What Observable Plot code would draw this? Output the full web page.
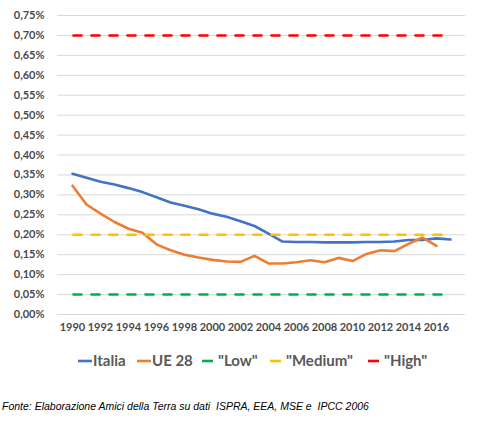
<!DOCTYPE html>
<html>
<head>
<meta charset="utf-8">
<script src="https://cdn.jsdelivr.net/npm/d3@7"></script>
<script src="https://cdn.jsdelivr.net/npm/@observablehq/plot@0.6"></script>
<style>
  body { margin: 0; background: #fff; }
  #wrap { width: 490px; height: 423px; position: relative; font-family: Lato, "Open Sans", sans-serif; }
  #legend { position: absolute; top: 350px; left: 0; width: 490px; height: 22px; }
  #caption { position: absolute; top: 400px; left: 2px; font-family: "Liberation Sans", Arial, sans-serif; font-style: italic; font-size: 10.5px; color: #000; white-space: pre; }
</style>
</head>
<body>
<div id="wrap">
  <div id="chart"></div>
  <div id="legend"></div>
  <div id="caption"></div>
</div>
<script>
// ---- data ----
const years = d3.range(1990, 2018);
const italia = [0.353, 0.343, 0.333, 0.326, 0.317, 0.307, 0.294, 0.281, 0.273, 0.264,
                0.253, 0.245, 0.234, 0.222, 0.203, 0.183, 0.182, 0.182, 0.181, 0.181,
                0.181, 0.182, 0.182, 0.183, 0.187, 0.187, 0.191, 0.188];
const ue28 = [0.323, 0.276, 0.253, 0.232, 0.215, 0.205, 0.176, 0.161, 0.150, 0.143,
              0.137, 0.133, 0.132, 0.147, 0.128, 0.128, 0.131, 0.136, 0.131, 0.142,
              0.134, 0.152, 0.161, 0.159, 0.177, 0.193, 0.172];
const levelNames = ['"Low"', '"Medium"', '"High"'];
const levelValues = [0.05, 0.20, 0.70];
const xTicks = d3.range(1990, 2017, 2);
const yTicks = [0, 0.05, 0.10, 0.15, 0.20, 0.25, 0.30, 0.35, 0.40, 0.45, 0.50, 0.55, 0.60, 0.65, 0.70, 0.75];
const seriesNames = ["Italia", "UE 28"];
const colors = {"Italia": "#4472C4", "UE 28": "#ED7D31", '"Low"': "#00B050", '"Medium"': "#FFC000", '"High"': "#FF0000"};
const caption = "Fonte: Elaborazione Amici della Terra su dati  ISPRA, EEA, MSE e  IPCC 2006";

// ---- tables ----
const solid = [
  ...italia.map((v, i) => ({series: "Italia", year: years[i], value: v})),
  ...ue28.map((v, i) => ({series: "UE 28", year: years[i], value: v}))
];
const dashed = levelNames.flatMap((n, k) => years.map(y => ({series: n, year: y, value: levelValues[k]})));

const fmt = d => d.toFixed(2).replace(".", ",") + "%";

const chart = Plot.plot({
  width: 490,
  height: 340,
  marginLeft: 57,
  marginRight: 25,
  marginTop: 15,
  marginBottom: 26,
  style: {fontFamily: "Lato, 'Open Sans', sans-serif", fontSize: "11px", fontWeight: "bold", color: "#4a4a4a", background: "#fff"},
  x: {type: "point", domain: years, padding: 0.5, ticks: xTicks, tickSize: 0, tickPadding: 9, label: null, tickFormat: d => String(d)},
  y: {domain: [0, 0.75], ticks: yTicks, tickSize: 0, tickPadding: 13, label: null, tickFormat: fmt},
  color: {domain: Object.keys(colors), range: Object.values(colors)},
  marks: [
    Plot.gridY(yTicks, {stroke: "#d9d9d9", strokeOpacity: 1, strokeWidth: 1}),
    Plot.axisX({ticks: xTicks, tickSize: 0, tickPadding: 9, tickFormat: d => String(d), fill: "#4a4a4a"}),
    Plot.axisY({ticks: yTicks, tickSize: 0, tickPadding: 13, tickFormat: fmt, fill: "#4a4a4a"}),
    Plot.line(solid, {x: "year", y: "value", z: "series", stroke: d => colors[d.series], strokeWidth: 2.6, strokeLinejoin: "round", strokeLinecap: "round"}),
    Plot.line(dashed, {x: "year", y: "value", z: "series", stroke: d => colors[d.series], strokeWidth: 2.6, strokeDasharray: "8,10", strokeDashoffset: -1})
  ]
});
document.getElementById("chart").appendChild(chart);

// ---- legend ----
const items = [...seriesNames, ...levelNames];
const legendSvg = d3.select("#legend").append("svg").attr("width", 490).attr("height", 22);
const xs = [78, 137, 202, 270, 368];
items.forEach((name, i) => {
  const g = legendSvg.append("g").attr("transform", `translate(${xs[i]},11)`);
  const isSolid = i < 2;
  const w = isSolid ? 14 : 11;
  g.append("line").attr("x1", 0).attr("x2", w).attr("y1", 0).attr("y2", 0)
    .attr("stroke", colors[name]).attr("stroke-width", 2.6);
  g.append("text").attr("x", isSolid ? w + 1 : w + 5).attr("y", 0).attr("dy", "0.35em")
    .attr("font-family", "Lato, 'Open Sans', sans-serif").attr("font-weight", "bold")
    .attr("font-size", "15px").attr("fill", "#595959").text(name);
});
document.getElementById("caption").textContent = caption;
</script>
</body>
</html>
